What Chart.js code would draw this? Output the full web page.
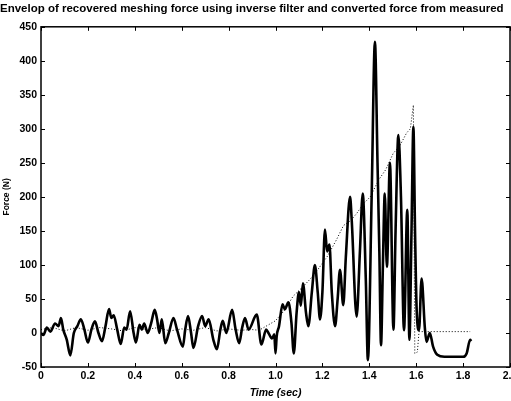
<!DOCTYPE html>
<html>
<head>
<meta charset="utf-8">
<script src="https://cdn.jsdelivr.net/npm/chart.js@4.4.0/dist/chart.umd.min.js"></script>
<style>
  html, body { margin: 0; padding: 0; background: #fff; }
  #wrap { width: 511px; height: 401px; }
</style>
</head>
<body>
<div id="wrap"><canvas id="forceChart"></canvas></div>
<script>
// recovered meshing force (solid)
const recTime = [0, 0.01, 0.025, 0.04, 0.06, 0.075, 0.085, 0.095, 0.11, 0.125, 0.14, 0.155, 0.17, 0.185, 0.2,
  0.215, 0.23, 0.245, 0.26, 0.275, 0.29, 0.3, 0.31, 0.325, 0.34, 0.355, 0.365, 0.38, 0.395, 0.405, 0.42, 0.43,
  0.44, 0.455, 0.47, 0.485, 0.495, 0.505, 0.515, 0.53, 0.545, 0.565, 0.58, 0.605, 0.615, 0.627, 0.64, 0.65,
  0.67, 0.687, 0.7, 0.715, 0.735, 0.75, 0.765, 0.775, 0.79, 0.815, 0.83, 0.845, 0.858, 0.87, 0.885, 0.92,
  0.94, 0.96, 0.97, 0.985, 0.995, 1.0, 1.005, 1.015, 1.03, 1.04, 1.055, 1.068, 1.078, 1.09, 1.1, 1.108,
  1.117, 1.13, 1.14, 1.155, 1.168, 1.18, 1.19, 1.2, 1.211, 1.22, 1.23, 1.24, 1.254, 1.265, 1.275, 1.289,
  1.3, 1.318, 1.325, 1.346, 1.36, 1.372, 1.385, 1.394, 1.41, 1.424, 1.435, 1.443, 1.45, 1.458, 1.466,
  1.475, 1.488, 1.503, 1.512, 1.524, 1.535, 1.548, 1.562, 1.571, 1.58, 1.588, 1.595, 1.602, 1.612, 1.623,
  1.637, 1.644, 1.658, 1.672, 1.69, 1.72, 1.8, 1.815, 1.83, 1.835];
const recForce = [0, -3, 8, 2, 14, 10, 22, 5, -10, -33, 0, 10, 20, 5, -14,
  5, 17, 0, -12, 10, 35, 22, 26, 5, -16, 8, 5, 32, 0, -14, 12, 5,
  14, 0, 15, 34, 20, 0, 20, -15, 0, 22, 5, -20, 5, 25, 0, -22,
  10, 25, 10, 20, -10, -24, 5, 18, 0, 34, 5, -15, 8, 22, 5, 27,
  -17, 5, 0, -8, -2, -30, -5, 10, 42, 35, 45, 15, -30, 30, 60, 40,
  73, 30, 10, 60, 100, 60, 20, 60, 152, 120, 130, 60, 10, 50, 93, 41,
  112, 200, 166, 24, 120, 205, 80, -40, 200, 428, 250, 117, -18, 100, 205,
  97, 250, 5, 150, 291, 200, 4, 181, -10, 150, 303, 150, 34, 4, 80,
  7, -13, 0, -20, -32, -35, -35, -30, -10, -12];

// converted force from measured (dotted)
const measTime = [0, 0.05, 0.1, 0.15, 0.2, 0.25, 0.3, 0.35, 0.4, 0.45, 0.5, 0.55, 0.6, 0.65, 0.7, 0.75, 0.8,
  0.85, 0.9, 0.93, 0.96, 1.0, 1.04, 1.075, 1.117, 1.15, 1.18, 1.22, 1.26, 1.29, 1.32, 1.347, 1.375, 1.404,
  1.44, 1.47, 1.502, 1.53, 1.559, 1.575, 1.588, 1.594, 1.605, 1.612, 1.83];
const measForce = [5, 8, 3, 8, 4, 8, 6, 3, 8, 5, 8, 3, 6, 4, 8, 3, 6,
  4, 5, 4, 10, 18, 34, 54, 68, 80, 93, 112, 137, 158, 165, 176, 190, 200,
  225, 240, 264, 275, 294, 300, 335, -30, -28, 2, 2];

const xMin = 0, xMax = 2, xStep = 0.2;
const yMin = -50, yMax = 450, yStep = 50;

const toPoints = (xs, ys) => xs.map((t, i) => ({ x: t, y: ys[i] }));

// box around the plot with matlab style inward ticks
const frame = {
  id: 'frame',
  afterDraw(chart) {
    const { ctx, chartArea: a, scales: { x, y } } = chart;
    ctx.save();
    ctx.strokeStyle = '#000';
    ctx.lineWidth = 1.5;
    ctx.strokeRect(a.left, a.top, a.right - a.left, a.bottom - a.top);
    ctx.lineWidth = 1;
    ctx.beginPath();
    x.ticks.forEach(t => {
      const px = Math.round(x.getPixelForValue(t.value)) + 0.5;
      ctx.moveTo(px, a.bottom); ctx.lineTo(px, a.bottom - 4);
      ctx.moveTo(px, a.top); ctx.lineTo(px, a.top + 4);
    });
    y.ticks.forEach(t => {
      const py = Math.round(y.getPixelForValue(t.value)) + 0.5;
      ctx.moveTo(a.left, py); ctx.lineTo(a.left + 4, py);
      ctx.moveTo(a.right, py); ctx.lineTo(a.right - 4, py);
    });
    ctx.stroke();
    ctx.restore();
  }
};

const tickFont = { family: 'Liberation Sans', size: 10.5, weight: 'bold' };

new Chart(document.getElementById('forceChart'), {
  type: 'line',
  data: {
    datasets: [{
      label: 'Recovered',
      data: toPoints(recTime, recForce),
      borderColor: '#000',
      borderWidth: 2.6,
      pointRadius: 0,
      cubicInterpolationMode: 'monotone',
      fill: false
    }, {
      label: 'Measured',
      data: toPoints(measTime, measForce),
      borderColor: '#000',
      borderWidth: 1,
      borderDash: [1, 2],
      pointRadius: 0,
      tension: 0,
      fill: false
    }]
  },
  options: {
    responsive: true,
    maintainAspectRatio: false,
    animation: false,
    layout: { padding: { left: 0, right: 1, top: 0, bottom: 0 } },
    plugins: {
      legend: { display: false },
      tooltip: { enabled: false },
      title: {
        display: true,
        text: 'Envelop of recovered meshing force using inverse filter and converted force from measured',
        align: 'start',
        color: '#000',
        font: { family: 'Liberation Sans', size: 11.5, weight: 'bold', lineHeight: 1.2 },
        padding: { top: 2, bottom: 11 }
      }
    },
    scales: {
      x: {
        type: 'linear',
        min: xMin,
        max: xMax,
        ticks: { stepSize: xStep, color: '#000', font: tickFont, padding: 3, maxRotation: 0 },
        grid: { display: false, drawTicks: false },
        border: { display: false },
        title: {
          display: true,
          text: 'Time (sec)',
          color: '#000',
          font: { family: 'Liberation Sans', size: 10.5, weight: 'bold', style: 'italic' },
          padding: { top: 0, bottom: 2 }
        },
        afterFit(s) { s.height = 34; s.paddingLeft = 0; s.paddingRight = 0; }
      },
      y: {
        min: yMin,
        max: yMax,
        ticks: { stepSize: yStep, color: '#000', font: tickFont, padding: 4 },
        grid: { display: false, drawTicks: false },
        border: { display: false },
        title: {
          display: true,
          text: 'Force (N)',
          color: '#000',
          font: { family: 'Liberation Sans', size: 8.5, weight: 'bold' },
          padding: { top: 2, bottom: 0 }
        },
        afterFit(s) { s.width = 41; s.paddingTop = 0; s.paddingBottom = 0; }
      }
    }
  },
  plugins: [frame]
});
</script>
</body>
</html>
